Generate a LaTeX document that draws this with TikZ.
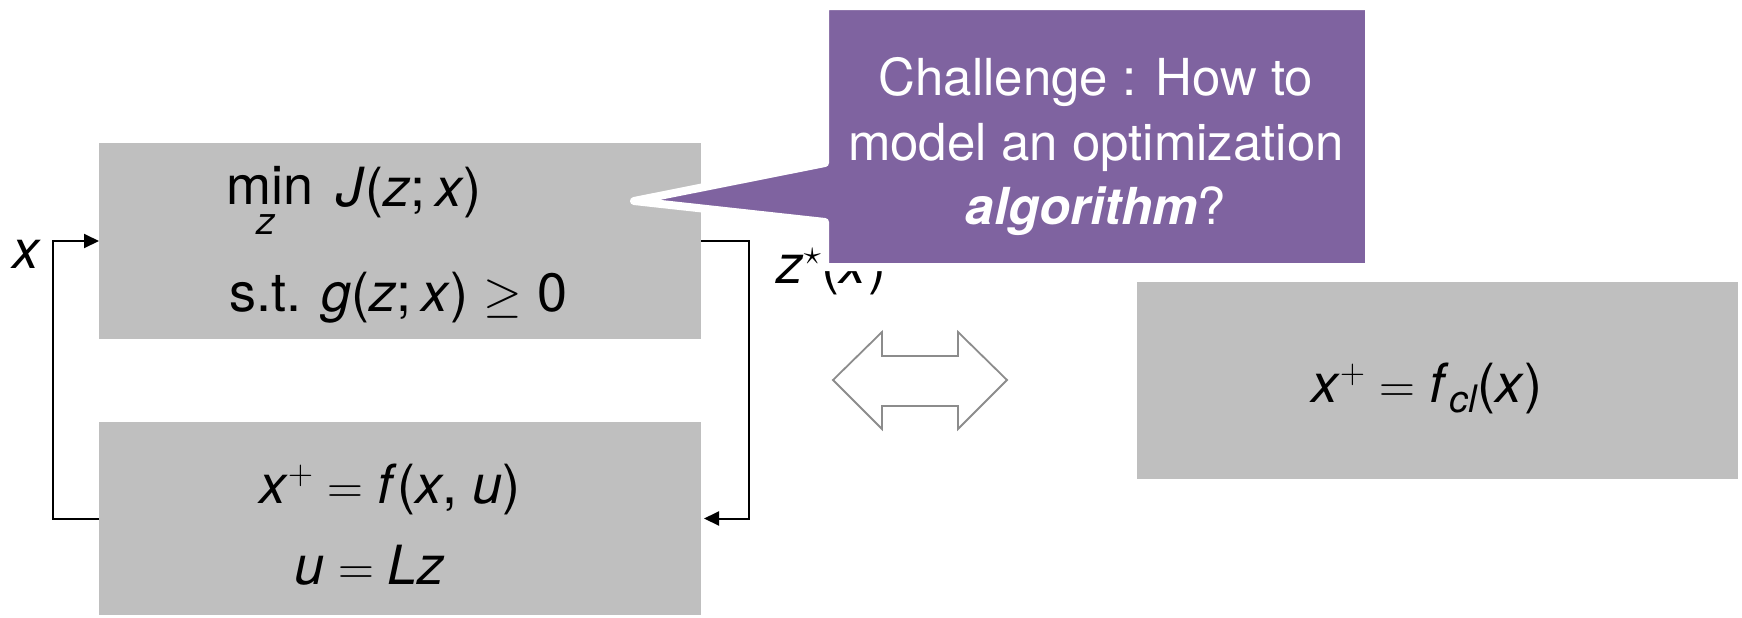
\documentclass[tikz,border=0pt]{standalone}
\usepackage{amsmath}
\usepackage{fontspec}
\setmainfont{TeX Gyre Heros}
\usetikzlibrary{arrows.meta}
\definecolor{boxgray}{RGB}{191,191,191}
\definecolor{notepurple}{RGB}{127,99,160}
\definecolor{outlinegray}{RGB}{140,140,140}
\newcommand{\iv}[1]{\textit{#1}}
\newcommand{\eqsign}{$\;=\;$}
\newcommand{\plussup}{$^{+}$}

\begin{document}
\begin{tikzpicture}[x=0.5pt,y=-0.5pt,
  block/.style={fill=boxgray, draw=none, inner sep=0pt, outer sep=0pt},
  eq/.style={font=\fontsize{27}{32}\selectfont, inner sep=0pt, anchor=base west},
  wire/.style={line width=1pt, -{Triangle[length=7.5pt,width=7pt]}},
  notetext/.style={font=\fontsize{25.5}{31}\selectfont, text=white, inner sep=0pt, anchor=base}]
\useasboundingbox (0,0) rectangle (1742,617);

% the three blocks
\node[block, minimum width=301pt, minimum height=98pt] (opt) at (400,241) {};
\node[block, minimum width=301pt, minimum height=96.5pt] (plant) at (400,518.5) {};
\node[block, minimum width=300.5pt, minimum height=98.5pt] (closed) at (1437.5,380.5) {};

% optimisation problem
\node[eq] (minop) at (226,204) {min};
\node[font=\fontsize{19}{20}\selectfont\itshape, inner sep=0pt, anchor=base] (minvar) at (266,234) {z};
\node[eq] (cost) at (336,206) {\iv{J}(\iv{z};\hspace{0.18em}\iv{x})};
\node[eq] (cons) at (229,311) {s.t. \iv{g}(\iv{z};\hspace{0.18em}\iv{x}) $\geq$ 0};

% plant dynamics and control law
\node[eq] (dyn) at (259,503) {\iv{x}\plussup\eqsign\iv{f}(\iv{x}, \iv{u})};
\node[eq] (law) at (294,584) {\iv{u}\eqsign\iv{Lz}};

% closed-loop map
\node[eq] (clmap) at (1311,402) {\iv{x}\plussup\eqsign\iv{f}\textsubscript{\itshape cl}(\iv{x})};

% feedback loop
\draw[wire] (plant.west) -- ++(-46,0) |- (opt.west);
\draw[wire, shorten >=1.5pt] (opt.east) -- ++(48,0) |- (plant.east);
\node[eq] (xin) at (12,268) {\iv{x}};
\node[eq] (zout) at (776,283) {\iv{z}$^\star$(\iv{x})};

% equivalence arrow
\draw[outlinegray, line width=0.9pt, fill=white]
  (833,380) -- (882,332) -- (882,356) -- (958,356) -- (958,332) -- (1007,380)
  -- (958,429) -- (958,406) -- (882,406) -- (882,429) -- cycle;

% callout
\path[fill=notepurple, draw=white, line width=4pt, line join=round]
  (825,6) -- (1369,6) -- (1369,267) -- (825,267) -- (825,222) -- (634,201) -- (825,163) -- cycle;
\node[notetext] (note1) at (1096,95) {Challenge : How to};
\node[notetext] (note2) at (1096,160) {model an optimization};
\node[notetext] (note3) at (1096,224) {{\bfseries\itshape algorithm}?};
\end{tikzpicture}
\end{document}
